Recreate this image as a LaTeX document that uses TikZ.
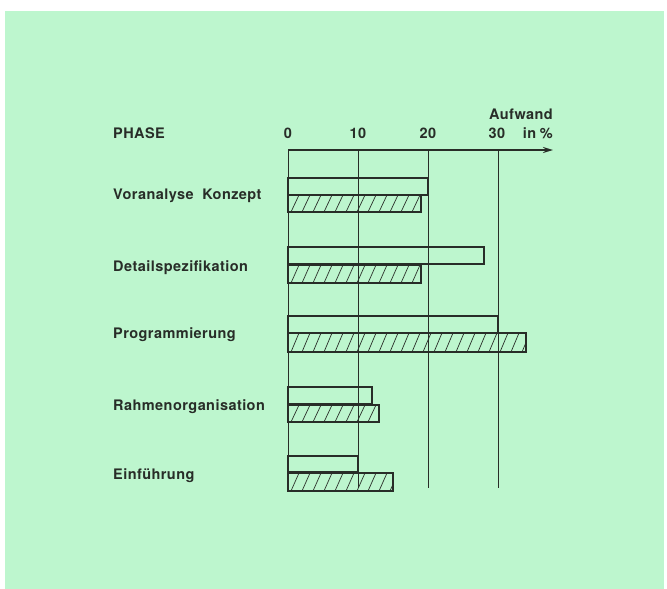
\documentclass[tikz,border=0pt]{standalone}
\usepackage{fontspec}
\setmainfont{TeX Gyre Heros}[LetterSpace=3]
\usetikzlibrary{arrows.meta}
\definecolor{bg}{RGB}{189,246,206}
\definecolor{ink}{RGB}{40,45,40}
\newcommand\plainbar[3]{\draw[barline] (288,#1) rectangle ({288+7*#3},#2);}
\newcommand\hatchbar[3]{%
  \begin{scope}
    \clip (288,#1) rectangle ({288+7*#3},#2);
    \foreach \k in {0,...,40}{\draw[hatchline] ({288+\k*11-8},#2) -- ({288+\k*11},#1);}
  \end{scope}
  \draw[barline] (288,#1) rectangle ({288+7*#3},#2);}
\begin{document}
\begin{tikzpicture}[x=1pt,y=-1pt,
  txt/.style={inner sep=0, text=ink, font=\bfseries\fontsize{14.5}{16}\selectfont},
  lbl/.style={txt, anchor=base west},
  tick/.style={txt, anchor=base},
  barline/.style={draw=ink, line width=1.7pt},
  hatchline/.style={draw=ink, line width=0.7pt},
  gridline/.style={draw=ink, line width=0.8pt},
  axisline/.style={draw=ink, line width=1.7pt, -{Stealth[length=10pt,width=6pt]}}]
\useasboundingbox (0,0) rectangle (667,589);
\fill[white] (0,0) rectangle (667,589);
\fill[bg] (5,11) rectangle (664,589);
% grid
\coordinate (g0t) at (288,150); \coordinate (g0b) at (288,492);
\coordinate (g1t) at (358,150); \coordinate (g1b) at (358,488);
\coordinate (g2t) at (428,150); \coordinate (g2b) at (428,488);
\coordinate (g3t) at (498,150); \coordinate (g3b) at (498,488);
\coordinate (axend) at (553,150);
\draw[gridline] (g0t) -- (g0b);
\draw[gridline] (g1t) -- (g1b);
\draw[gridline] (g2t) -- (g2b);
\draw[gridline] (g3t) -- (g3b);
\draw[axisline] (g0t) -- (axend);
% axis labels
\node[lbl] (phase) at (113,138) {PHASE};
\node[tick] (t0) at (288,138) {0};
\node[tick] (t10) at (358,138) {10};
\node[tick] (t20) at (428,138) {20};
\node[tick] (t30) at (497,138) {30};
\node[txt, anchor=base east] (inpct) at (553,138) {in\hspace{0.25em}\%};
\node[txt, anchor=base east] (aufwand) at (553,119) {Aufwand};
% bars
\plainbar{178}{195}{20}
\hatchbar{195}{212}{19}
\plainbar{247}{264}{28}
\hatchbar{265}{283}{19}
\plainbar{316}{333}{30}
\hatchbar{333}{352}{34}
\plainbar{387}{404}{12}
\hatchbar{405}{422}{13}
\plainbar{456}{472}{10}
\hatchbar{473}{491}{15}
% phase labels
\node[lbl] (vk) at (113,199) {Voranalyse\hspace{0.6em}Konzept};
\node[lbl] (ds) at (113,271) {Detailspezifikation};
\node[lbl] (pr) at (113,338) {Programmierung};
\node[lbl] (ro) at (113,410) {Rahmenorganisation};
\node[lbl] (ef) at (113,479) {Einführung};
\end{tikzpicture}
\end{document}
